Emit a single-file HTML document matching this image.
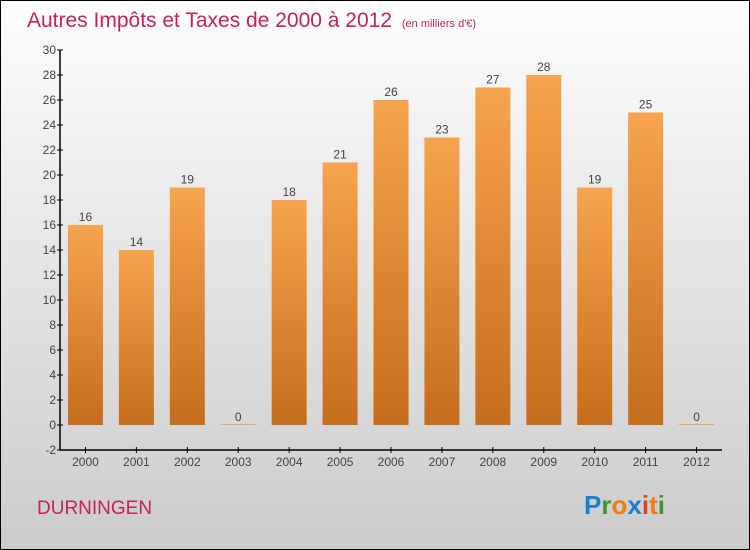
<!DOCTYPE html>
<html><head><meta charset="utf-8"><style>
body{margin:0;}
svg{display:block;font-family:"Liberation Sans",sans-serif;}
</style></head><body>
<svg width="750" height="550" xmlns="http://www.w3.org/2000/svg">
<defs>
<linearGradient id="bg" x1="0" y1="0" x2="0" y2="1"><stop offset="0" stop-color="#fdfdfd"/><stop offset="1" stop-color="#cbcbcb"/></linearGradient>
<linearGradient id="bar" x1="0" y1="0" x2="0" y2="1"><stop offset="0" stop-color="#f7a44e"/><stop offset="1" stop-color="#c56d1c"/></linearGradient>
</defs>
<rect x="0.5" y="0.5" width="749" height="549" fill="url(#bg)" stroke="#000"/>
<text x="27" y="27" font-size="21" fill="#c42359">Autres Impôts et Taxes de 2000 à 2012 <tspan font-size="11" dx="4">(en milliers d'€)</tspan></text>
<g id="yaxis"></g><g id="bars"></g><g id="xaxis"></g>
<text x="37" y="514" font-size="19" fill="#c42359">DURNINGEN</text>
<text x="584" y="514" font-size="26" font-weight="bold"><tspan fill="#1a7fd0">P</tspan><tspan fill="#3a9a2a">r</tspan><tspan fill="#f07d10">o</tspan><tspan fill="#1a7fd0">x</tspan><tspan fill="#e83c20">i</tspan><tspan fill="#f07d10">t</tspan><tspan fill="#3a9a2a">i</tspan></text>
</svg>
<script>
const years=["2000","2001","2002","2003","2004","2005","2006","2007","2008","2009","2010","2011","2012"];
const values=[16,14,19,0,18,21,26,23,27,28,19,25,0];
const yTicks=[-2,0,2,4,6,8,10,12,14,16,18,20,22,24,26,28,30];
const NS="http://www.w3.org/2000/svg";
const x0=60,x1=722,yMin=-2,yMax=30,pTop=50,pBot=450;
const y=v=>pBot-(v-yMin)/(yMax-yMin)*(pBot-pTop);
const step=(x1-x0)/years.length;
const xc=i=>x0+step*(i+0.5);
function mk(tag,attrs,parent,text){const e=document.createElementNS(NS,tag);for(const k in attrs)e.setAttribute(k,attrs[k]);if(text!==undefined)e.textContent=text;parent.appendChild(e);return e;}
const ya=document.getElementById('yaxis'),ba=document.getElementById('bars'),xa=document.getElementById('xaxis');
let l=mk('line',{x1:x0,y1:pTop,x2:x0,y2:pBot,stroke:'#000','stroke-width':1.5},ya);


yTicks.forEach(v=>{
 const t=mk('line',{x1:x0-3,x2:x0+3,y1:y(v),y2:y(v),stroke:'#000'},ya);
 
 
 const tx=mk('text',{x:x0-4,y:y(v)+4,'font-size':12,'text-anchor':'end',fill:'#444'},ya,v);
 
 
});
const bw=35;
values.forEach((v,i)=>{
 const cx=xc(i);
 const h=Math.max(y(0)-y(v),1);
 const r=mk('rect',{x:cx-bw/2,y:y(0)-h,width:bw,height:h,fill:v>0?'url(#bar)':'#f7a44e'},ba);
 
 
 const lb=mk('text',{x:cx,y:y(v)-4,'font-size':12,'text-anchor':'middle',fill:'#444'},ba,v);
 
 
 const t=mk('line',{x1:cx,x2:cx,y1:pBot-3,y2:pBot+3,stroke:'#000'},xa);
 
 
 const xl=mk('text',{x:cx,y:pBot+16,'font-size':12,'text-anchor':'middle',fill:'#444'},xa,years[i]);
 
 
});
const xl=mk('line',{x1:x0,y1:pBot,x2:x1,y2:pBot,stroke:'#000','stroke-width':1.5},xa);


</script>
</body></html>
